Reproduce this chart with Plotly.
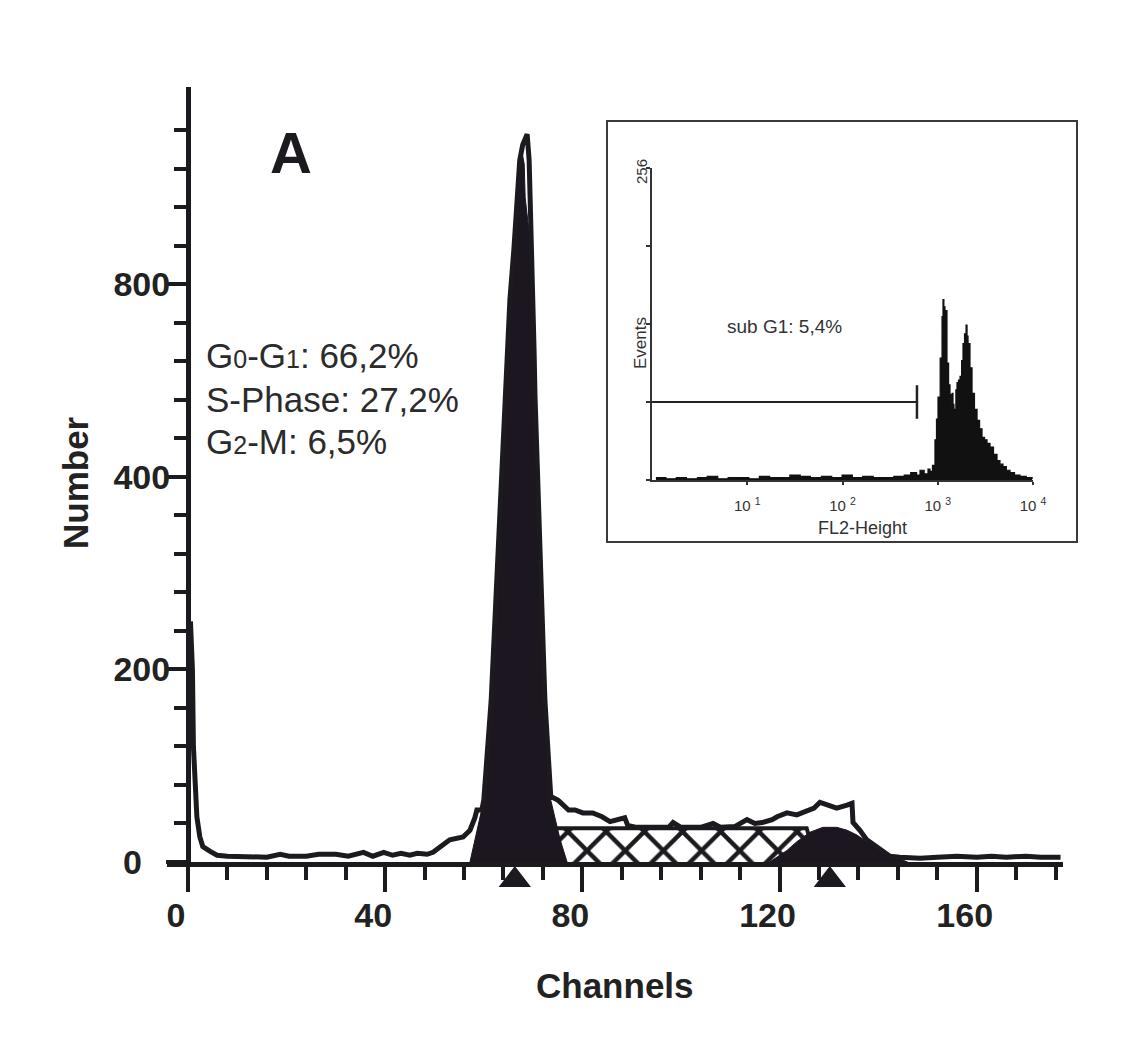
import plotly.graph_objects as go

W, H = 1138, 1046
INK = "#1c1a1e"
FONT = "Liberation Sans, Arial, Helvetica, sans-serif"
NBSP = "\u00a0"

# ---------------- main DNA histogram (Channels vs Number) ----------------
# total (fitted) outline curve
outline_ch = [0.5, 0.9, 1.1, 1.3, 1.8, 2.4, 3.0, 4.5, 5.9, 8.0,
              12.0, 16.0, 18.7, 20.5, 24.0, 26.5, 30.0, 32.5, 35.6, 37.5,
              39.7, 41.5, 43.2, 45.0, 46.5, 48.5, 49.7, 51.1, 53.1, 55.8,
              57.2, 58.2, 58.6, 59.6, 60.0, 61.5, 64.3, 64.9, 65.3, 66.1,
              66.7, 67.3, 67.9, 68.8, 69.2, 69.4, 69.6, 70.0, 70.2, 70.4,
              72.4, 73.6, 74.0, 75.1, 77.2, 78.5, 80.1, 82.1, 84.0, 85.6,
              87.6, 88.6, 89.2, 91.0, 95.0, 97.5, 98.4, 100.0, 104.0, 106.5,
              108.0, 111.0, 113.4, 115.0, 116.5, 118.5, 119.5, 121.5, 123.5, 125.6,
              127.0, 128.2, 129.6, 131.6, 133.7, 134.7, 134.9, 136.3, 137.7, 140.4,
              142.4, 144.4, 148.5, 152.0, 156.0, 160.0, 163.0, 166.0, 170.0, 173.0,
              177.0]
outline_n = [250, 200, 120, 92, 47, 26, 16, 11, 7, 6,
             5, 5, 8, 6, 6, 8, 8, 6, 10, 6,
             10, 7, 9, 7, 9, 8, 10, 16, 23, 26,
             33, 46, 54, 54, 64, 168, 483, 532, 584, 636,
             688, 729, 745, 756, 729, 677, 636, 584, 532, 483,
             168, 67, 67, 64, 54, 54, 51, 51, 47, 42,
             44, 46, 38, 36, 36, 36, 41, 36, 36, 40,
             36, 37, 44, 40, 41, 44, 47, 51, 49, 53,
             56, 62, 59, 56, 59, 61, 41, 33, 23, 12.5,
             6, 5, 4, 5, 6, 5, 6, 5, 6, 5,
             5]

# G0-G1 component (filled black)
g1_ch = [57.2, 58.2, 60.0, 61.5, 64.3, 64.9, 65.3, 66.1, 66.7, 67.3,
         67.8, 68.2, 68.4, 69.4, 69.6, 70.0, 70.2, 70.4, 72.4, 73.6,
         75.5, 76.9]
g1_n = [0, 23, 64, 168, 483, 532, 584, 636, 688, 729,
        736, 725, 690, 650, 636, 584, 532, 483, 168, 64,
        23, 0]

# S-phase component (cross-hatched)
s_ch = [72.0, 72.6, 80.0, 90.0, 100.0, 110.0, 120.0, 125.5, 127.5]
s_n = [0, 35, 35, 35, 35, 35, 35, 35, 0]

# G2-M component (filled black)
g2_ch = [118.0, 119.5, 121.5, 123.5, 126.2, 128.8, 131.6, 133.7, 135.7, 137.7,
         140.4, 142.4, 144.4, 146.0]
g2_n = [0, 5, 12, 21, 31, 36, 36, 33, 28, 21,
        12.5, 6, 3, 0]

# peak-position markers (G1 and G2 means)
peak_marks_ch = [66.3, 130.2]

x_tick_vals = [0, 40, 80, 120, 160]
y_tick_vals = [0, 200, 400, 600]
y_tick_text = ["0" + NBSP * 3, "200", "400", "800"]
y_minor_vals = list(range(40, 761, 40))

SUB = "<span style='font-size:25px'>{}</span>"
phase_lines = ["G" + SUB.format("0") + "-G" + SUB.format("1") + ": 66,2%",
               "S-Phase: 27,2%",
               "G" + SUB.format("2") + "-M: 6,5%"]

# ---------------- inset: FL2-Height log histogram ----------------
inset_fl2 = [1.1, 1.4, 1.8, 2.3, 3.0, 3.8, 4.9, 6.3, 8.1, 10.4,
             13.4, 17.2, 22, 28, 36, 46, 60, 77, 99, 127,
             163, 210, 270, 346, 445, 520, 600, 651, 720, 790,
             829, 880, 935, 970, 1006, 1060, 1109, 1135, 1160, 1191,
             1250, 1300, 1345, 1380, 1413, 1446, 1480, 1518, 1550, 1593,
             1650, 1713, 1780, 1841, 1910, 1981, 2030, 2080, 2180, 2291,
             2430, 2585, 2750, 2915, 3100, 3291, 3539, 3850, 4190, 4500,
             4842, 5250, 5737, 6400, 7305, 8500, 9800]
inset_events = [2, 1, 2, 1, 2, 3, 1, 2, 2, 1,
                3, 2, 2, 4, 3, 2, 3, 2, 4, 2,
                3, 2, 2, 3, 4, 6, 4, 8, 5, 9,
                7, 12, 33, 50, 68, 100, 134, 148, 142, 139,
                96, 78, 63, 70, 71, 62, 58, 55, 74, 80,
                82, 85, 98, 112, 120, 127, 118, 112, 92, 71,
                58, 49, 42, 35, 33, 30, 27, 21, 16, 13,
                11, 8, 6, 4, 3, 2, 1]
subg1_gate_x = [1, 605]
subg1_gate_y = [64, 64]
inset_x_ticks = [10, 100, 1000, 10000]
inset_x_text = ["10 <sup>1</sup>", "10 <sup>2</sup>", "10 <sup>3</sup>", "10 <sup>4</sup>"]
inset_y_ticks = [0, 64, 128, 192, 256]


def px(x):
    return x / W


def py(y):
    return 1 - y / H


fig = go.Figure()

fig.add_trace(go.Scatter(
    x=s_ch, y=s_n, mode="lines", fill="tozeroy",
    fillpattern=dict(shape="x", fgcolor=INK, bgcolor="white", size=27, solidity=0.3),
    line=dict(color=INK, width=4), hoverinfo="skip"))
fig.add_trace(go.Scatter(
    x=g1_ch, y=g1_n, mode="lines", fill="tozeroy", fillcolor="#1b1620",
    line=dict(color="#1b1620", width=1), hoverinfo="skip"))
fig.add_trace(go.Scatter(
    x=g2_ch, y=g2_n, mode="lines", fill="tozeroy", fillcolor="#1b1620",
    line=dict(color="#1b1620", width=1), hoverinfo="skip"))
fig.add_trace(go.Scatter(
    x=outline_ch, y=outline_n, mode="lines",
    line=dict(color=INK, width=5), hoverinfo="skip"))
# peak markers sit just below the channel axis (own hidden vertical axis strip)
fig.add_trace(go.Scatter(
    x=peak_marks_ch, y=[0.5] * len(peak_marks_ch), xaxis="x", yaxis="y3",
    mode="markers", cliponaxis=False,
    marker=dict(symbol="triangle-up", size=28, color=INK, line=dict(width=0)),
    hoverinfo="skip"))

# inset traces
fig.add_trace(go.Scatter(
    x=inset_fl2, y=inset_events, xaxis="x2", yaxis="y2", mode="lines",
    fill="tozeroy", fillcolor="#111", line=dict(color="#111", width=1.2, shape="hv"),
    hoverinfo="skip"))
fig.add_trace(go.Scatter(
    x=subg1_gate_x, y=subg1_gate_y, xaxis="x2", yaxis="y2", mode="lines",
    line=dict(color="#222", width=2), hoverinfo="skip"))
fig.add_trace(go.Scatter(
    x=subg1_gate_x[-1:], y=subg1_gate_y[-1:], xaxis="x2", yaxis="y2", mode="markers",
    marker=dict(symbol="line-ns", size=24, line=dict(color="#222", width=2.5)),
    hoverinfo="skip"))

annotations = [
    dict(text="<b>A</b>", x=px(291), y=py(152), font=dict(size=58, color=INK)),
    dict(text="<b>Number</b>", x=px(75), y=py(483), textangle=-90, font=dict(size=35, color="#222")),
    dict(text="<b>Channels</b>", x=px(615), y=py(985), font=dict(size=35, color="#222")),
    dict(text="256", x=px(642), y=py(172), textangle=-90, font=dict(size=15, color="#333")),
    dict(text="Events", x=px(640), y=py(343), textangle=-90, font=dict(size=17, color="#333")),
    dict(text="FL2-Height", x=px(862), y=py(528), font=dict(size=18, color="#333")),
    dict(text="sub G1: 5,4%", x=px(784), y=py(326), font=dict(size=19, color="#333")),
]
for txt, yc in zip(phase_lines, [355, 400, 441]):
    annotations.append(dict(text=txt, x=px(204), y=py(yc), xanchor="left",
                            font=dict(size=35, color="#2b2b2b")))
for a in annotations:
    a.update(xref="paper", yref="paper", showarrow=False)
    a.setdefault("xanchor", "center")
    a.setdefault("yanchor", "middle")
    a["font"]["family"] = FONT

fig.update_layout(
    width=W, height=H, margin=dict(l=0, r=0, t=0, b=0),
    paper_bgcolor="white", plot_bgcolor="rgba(0,0,0,0)",
    template="none", showlegend=False,
    font=dict(family=FONT, color=INK),
    xaxis=dict(domain=[px(167), px(1063)], range=[-4.26, 177.5], anchor="y",
               showline=True, linewidth=5, linecolor=INK, showgrid=False, zeroline=False,
               ticks="outside", ticklen=25, tickwidth=4, tickcolor=INK,
               tickvals=x_tick_vals, ticklabelstandoff=-6, ticklabelshift=-12,
               tickfont=dict(size=34, family=FONT, color="#222", weight="bold"),
               minor=dict(dtick=8, tick0=0, ticks="outside", ticklen=13, tickwidth=4, tickcolor=INK)),
    yaxis=dict(domain=[py(862), py(87)], range=[0, 805], anchor="free", position=px(188),
               showline=True, linewidth=5, linecolor=INK, showgrid=False, zeroline=False,
               ticks="outside", ticklen=20, tickwidth=4, tickcolor=INK,
               tickvals=y_tick_vals, ticktext=y_tick_text, ticklabelstandoff=-11,
               tickfont=dict(size=34, family=FONT, color="#222", weight="bold"),
               minor=dict(tickmode="array", tickvals=y_minor_vals, ticks="outside",
                          ticklen=12, tickwidth=4, tickcolor=INK)),
    yaxis3=dict(domain=[py(900), py(860)], range=[0, 1], anchor="x", visible=False,
                fixedrange=True),
    xaxis2=dict(domain=[px(652), px(1033)], anchor="y2", type="log", range=[0, 4],
                showline=True, linewidth=2, linecolor="#333", showgrid=False, zeroline=False,
                ticks="outside", ticklen=3, tickwidth=1.5, tickcolor="#333",
                tickvals=inset_x_ticks, ticktext=inset_x_text, ticklabelstandoff=8,
                tickfont=dict(size=15, family=FONT, color="#333")),
    yaxis2=dict(domain=[py(480), py(168)], anchor="x2", range=[0, 256],
                showline=True, linewidth=2, linecolor="#333", showgrid=False, zeroline=False,
                ticks="outside", ticklen=4, tickwidth=1.5, tickcolor="#333",
                tickvals=inset_y_ticks, showticklabels=False),
    annotations=annotations,
    shapes=[dict(type="rect", xref="paper", yref="paper",
                 x0=px(607), x1=px(1077), y0=py(542), y1=py(121),
                 line=dict(color="#3a3a3a", width=2), fillcolor="rgba(0,0,0,0)")],
)

fig.write_html("out.html")
